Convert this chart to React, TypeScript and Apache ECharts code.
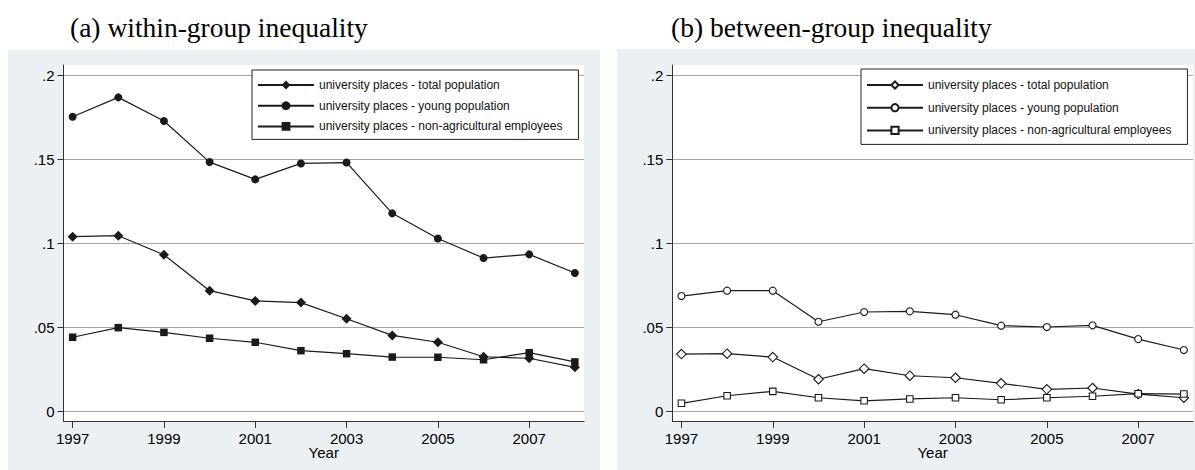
import React, { useEffect, useRef } from 'react';
import * as echarts from 'echarts';

const years = [1997, 1998, 1999, 2000, 2001, 2002, 2003, 2004, 2005, 2006, 2007, 2008];
const xTicks = [1997, 1999, 2001, 2003, 2005, 2007];
const yTicks = [0, 0.05, 0.1, 0.15, 0.2];
const panelTitles = ['(a) within-group inequality', '(b) between-group inequality'];
const xAxisTitle = 'Year';
const seriesNames = [
  'university places - total population',
  'university places - young population',
  'university places - non-agricultural employees',
];

const withinTotal = [0.1041, 0.1047, 0.0934, 0.072, 0.0659, 0.0649, 0.0553, 0.0454, 0.0413, 0.0327, 0.0318, 0.0264];
const withinYoung = [0.1755, 0.187, 0.1729, 0.1485, 0.1382, 0.1477, 0.1482, 0.118, 0.103, 0.0914, 0.0936, 0.0825];
const withinEmployees = [0.0443, 0.05, 0.0472, 0.0437, 0.0413, 0.0363, 0.0345, 0.0325, 0.0324, 0.0309, 0.0351, 0.0296];

const betweenTotal = [0.0343, 0.0345, 0.0325, 0.0193, 0.0256, 0.0214, 0.0202, 0.0169, 0.0133, 0.0141, 0.0105, 0.0083];
const betweenYoung = [0.0688, 0.072, 0.072, 0.0535, 0.0593, 0.0597, 0.0577, 0.0512, 0.0504, 0.0514, 0.0432, 0.0367];
const betweenEmployees = [0.005, 0.0095, 0.0121, 0.0083, 0.0065, 0.0076, 0.0083, 0.0071, 0.0083, 0.0092, 0.0107, 0.0105];

const SANS = '"Liberation Sans", Arial, sans-serif';
const SERIF = '"Liberation Serif", "Times New Roman", serif';
const INK = '#1a1a1a';
const AXIS = '#333333';
const PANEL_BG = '#EAF0F3';

function App() {
  const ref = useRef<HTMLDivElement | null>(null);

  useEffect(() => {
    if (!ref.current) return;
    const chart = echarts.init(ref.current, undefined, { renderer: 'svg' });

    const grids = [
      { left: 63.5, top: 65, width: 520.5, height: 356 },
      { left: 672.3, top: 65, width: 520.7, height: 356 },
    ];

    const makeX = (gi: number) => ({
      type: 'value',
      gridIndex: gi,
      min: 1996.8,
      max: 2008.2,
      name: xAxisTitle,
      nameLocation: 'middle',
      nameGap: 24,
      nameMoveOverlap: false,
      nameTextStyle: { fontFamily: SANS, fontSize: 15, color: '#000' },
      axisLine: { show: true, onZero: false, lineStyle: { color: AXIS, width: 1 } },
      axisTick: { show: true, length: 7, customValues: xTicks, lineStyle: { color: AXIS, width: 1 } },
      axisLabel: {
        customValues: xTicks,
        margin: 10,
        fontFamily: SANS,
        fontSize: 15,
        color: '#000',
        formatter: (v: number) => String(v),
      },
      splitLine: { show: false },
    });

    const makeY = (gi: number) => ({
      type: 'value',
      gridIndex: gi,
      min: -0.00553,
      max: 0.20625,
      axisLine: { show: true, onZero: false, lineStyle: { color: AXIS, width: 1 } },
      axisTick: { show: true, length: 6, customValues: yTicks, lineStyle: { color: AXIS, width: 1 } },
      axisLabel: {
        customValues: yTicks,
        margin: 9,
        fontFamily: SANS,
        fontSize: 15,
        color: '#000',
        formatter: (v: number) => (v === 0 ? '0' : String(+v.toFixed(4)).replace(/^0\./, '.')),
      },
      splitLine: { show: true, lineStyle: { color: '#a6a6a6', width: 1 } },
    });

    const mk = (name: string, data: number[], symbol: string, size: number, gi: number, hollow: boolean) => ({
      type: 'line',
      name,
      xAxisIndex: gi,
      yAxisIndex: gi,
      data: years.map((y, i) => [y, data[i]]),
      symbol,
      symbolSize: size,
      showSymbol: true,
      lineStyle: { color: INK, width: 1.2 },
      itemStyle: hollow ? { color: '#fff', borderColor: INK, borderWidth: 1.1 } : { color: INK },
      emphasis: { disabled: true },
      z: 3,
    });

    const rightNames = seriesNames.map((n) => n + ' ');

    const legendBase = {
      orient: 'vertical',
      itemWidth: 56,
      itemHeight: 11,
      itemGap: 8.7,
      padding: [9, 16, 7, 5],
      backgroundColor: '#fff',
      borderColor: '#222',
      borderWidth: 1,
      borderRadius: 0,
      selectedMode: false,
      textStyle: { fontFamily: SANS, fontSize: 12, color: '#111' },
    };

    const option: any = {
      animation: false,
      backgroundColor: '#fff',
      title: [
        {
          text: panelTitles[0],
          left: 65,
          top: 8,
          textStyle: { fontFamily: SERIF, fontSize: 27.5, fontWeight: 'normal', color: '#000' },
        },
        {
          text: panelTitles[1],
          left: 666,
          top: 8,
          textStyle: { fontFamily: SERIF, fontSize: 27.5, fontWeight: 'normal', color: '#000' },
        },
      ],
      graphic: [
        { type: 'rect', z: -100, silent: true, shape: { x: 8, y: 50, width: 592, height: 420 }, style: { fill: PANEL_BG } },
        { type: 'rect', z: -100, silent: true, shape: { x: 617, y: 49, width: 578, height: 421 }, style: { fill: PANEL_BG } },
      ],
      grid: grids.map((g) => ({ ...g, show: true, backgroundColor: '#fff', borderWidth: 0, containLabel: false })),
      xAxis: [makeX(0), makeX(1)],
      yAxis: [makeY(0), makeY(1)],
      legend: [
        { ...legendBase, left: 252, top: 70, data: seriesNames },
        {
          ...legendBase,
          itemHeight: 9,
          itemGap: 10.7,
          padding: [10, 16, 8, 5],
          left: 861,
          top: 69,
          data: rightNames,
          formatter: (n: string) => n.trim(),
        },
      ],
      series: [
        mk(seriesNames[0], withinTotal, 'diamond', 10, 0, false),
        mk(seriesNames[1], withinYoung, 'circle', 8, 0, false),
        mk(seriesNames[2], withinEmployees, 'rect', 7.5, 0, false),
        mk(rightNames[0], betweenTotal, 'diamond', 9.5, 1, true),
        mk(rightNames[1], betweenYoung, 'circle', 7, 1, true),
        mk(rightNames[2], betweenEmployees, 'rect', 6.5, 1, true),
      ],
    };

    chart.setOption(option);
    return () => {
      chart.dispose();
    };
  }, []);

  return (
    <div
      ref={ref}
      style={{ position: 'fixed', left: 0, top: 0, width: 1195, height: 470, background: '#fff' }}
    />
  );
}

export default App;
